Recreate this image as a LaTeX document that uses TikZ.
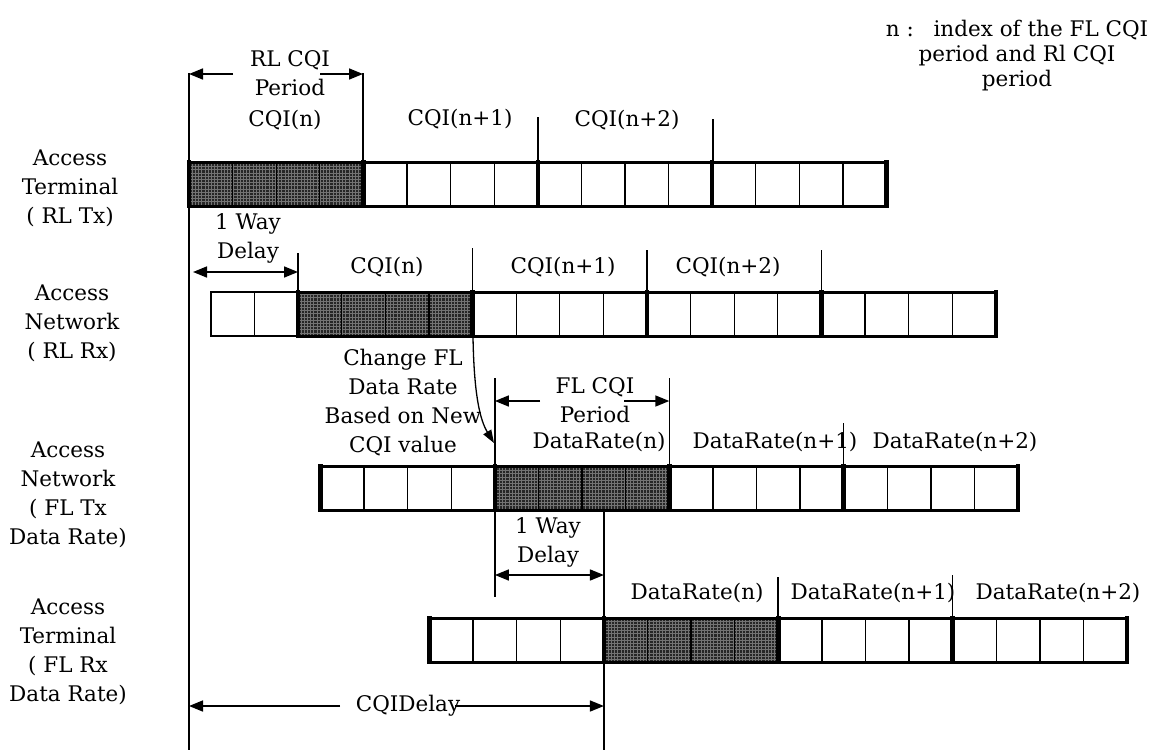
\documentclass[tikz,border=0pt]{standalone}
\usepackage{fontspec}
\setmainfont{DejaVu Serif}
\usetikzlibrary{arrows.meta}

% slot width of the time lines
\newcommand\sw{43.6}

\begin{document}
\begin{tikzpicture}[x=1pt,y=-1pt,
  lbl/.style={font=\fontsize{21.5}{29}\selectfont, inner sep=0pt, align=center},
  note/.style={font=\fontsize{21.5}{25}\selectfont, inner sep=0pt, align=center},
  slotline/.style={line width=1.3pt},
  rowedge/.style={line width=3pt, line cap=rect},
  thinedge/.style={line width=1.3pt},
  periodline/.style={line width=4.5pt, line cap=rect},
  tick/.style={line width=1.4pt},
  dim/.style={line width=1.6pt, -{Triangle[length=14pt,width=11pt]}},
  dimboth/.style={line width=1.6pt, {Triangle[length=14pt,width=11pt]}-{Triangle[length=14pt,width=11pt]}},
  cqifill/.style={fill=black!85},
  cqigrid/.style={draw=black!55, line width=0.55pt}
]
\useasboundingbox (0,0) rectangle (1164,750);

% a shaded CQI period of four slots, #1 = left x, #2 = top y
\newcommand\cqiblock[2]{%
  \fill[cqifill] (#1,#2) rectangle ++(4*\sw,44);
  \begin{scope}
    \clip (#1,#2) rectangle ++(4*\sw,44);
    \draw[cqigrid, step=3.2pt] (#1-2,#2-2) grid (#1+4*\sw+2,#2+46);
  \end{scope}}

% ---------- Access Terminal (RL Tx) ----------
\cqiblock{189}{162}
\foreach \k in {1,...,15} \draw[slotline] (189+\k*\sw,162) -- ++(0,44);
\draw[rowedge] (189,162) -- (189+16*\sw,162) (189,206) -- (189+16*\sw,206);
\foreach \k in {0,4,8,12,16} \draw[periodline] (189+\k*\sw,162) -- ++(0,44);

% ---------- Access Network (RL Rx) ----------
\cqiblock{211+2*\sw}{292}
\foreach \k in {1,...,17} \draw[slotline] (211+\k*\sw,292) -- ++(0,44);
\draw[thinedge] (211,292) rectangle (211+2*\sw,336);
\draw[rowedge] (211+2*\sw,292) -- (211+18*\sw,292) (211+2*\sw,336) -- (211+18*\sw,336);
\foreach \k in {2,6,10,14,18} \draw[periodline] (211+\k*\sw,292) -- ++(0,44);

% ---------- Access Network (FL Tx Data Rate) ----------
\cqiblock{320.5+4*\sw}{466}
\foreach \k in {1,...,15} \draw[slotline] (320.5+\k*\sw,466) -- ++(0,44);
\draw[rowedge] (320.5,466) -- (320.5+16*\sw,466) (320.5,510) -- (320.5+16*\sw,510);
\foreach \k in {0,4,8,12,16} \draw[periodline] (320.5+\k*\sw,466) -- ++(0,44);

% ---------- Access Terminal (FL Rx Data Rate) ----------
\cqiblock{429.5+4*\sw}{618}
\foreach \k in {1,...,15} \draw[slotline] (429.5+\k*\sw,618) -- ++(0,44);
\draw[rowedge] (429.5,618) -- (429.5+16*\sw,618) (429.5,662) -- (429.5+16*\sw,662);
\foreach \k in {0,4,8,12,16} \draw[periodline] (429.5+\k*\sw,618) -- ++(0,44);

% ---------- row labels ----------
\node[lbl] (at1) at (70,188) {Access\\Terminal\\( RL Tx)};
\node[lbl] (an1) at (72,323) {Access\\Network\\( RL Rx)};
\node[lbl] (an2) at (68,495) {Access\\Network\\( FL Tx\\Data Rate)};
\node[lbl] (at2) at (68,652) {Access\\Terminal\\( FL Rx\\Data Rate)};

% ---------- reference lines ----------
\coordinate (t0a) at (189,73);   \coordinate (t0b) at (189,750);
\coordinate (t1a) at (363,73);   \coordinate (t1b) at (363,162);
\coordinate (t2a) at (538,117);  \coordinate (t2b) at (538,162);
\coordinate (t3a) at (713,119);  \coordinate (t3b) at (713,162);
\coordinate (r1a) at (298,253);  \coordinate (r1b) at (298,292);
\coordinate (r2a) at (472.6,248);\coordinate (r2b) at (472.6,292);
\coordinate (r3a) at (647,250);  \coordinate (r3b) at (647,292);
\coordinate (r4a) at (821.4,250);\coordinate (r4b) at (821.4,292);
\coordinate (f1a) at (494.9,378);\coordinate (f1b) at (494.9,597);
\coordinate (f2a) at (669.3,378);\coordinate (f2b) at (669.3,466);
\coordinate (f3a) at (843.7,423);\coordinate (f3b) at (843.7,466);
\coordinate (d1a) at (603.9,510);\coordinate (d1b) at (603.9,750);
\coordinate (d2a) at (777.8,577);\coordinate (d2b) at (777.8,618);
\coordinate (d3a) at (952.2,575);\coordinate (d3b) at (952.2,618);
\draw[tick] (t0a) -- (t0b);
\foreach \p in {t1,t2,t3,r1,r2,r3,r4,f1,f2,f3,d1,d2,d3}
  \draw[tick] (\p a) -- (\p b);

% ---------- RL CQI period ----------
\node[lbl] (rlp) at (290,73) {RL CQI\\Period};
\coordinate (rlpL) at (233,74); \coordinate (rlpR) at (320,74);
\draw[dim] (rlpL) -- (t0a |- rlpL);
\draw[dim] (rlpR) -- (t1a |- rlpR);
\node[lbl] (c1) at (285,120) {CQI(n)};
\node[lbl] (c2) at (460,119) {CQI(n+1)};
\node[lbl] (c3) at (627,120) {CQI(n+2)};

% ---------- RL one way delay ----------
\node[lbl] (wd1) at (248,238) {1 Way\\Delay};
\coordinate (wd1L) at (193,272);
\draw[dimboth] (wd1L) -- (r1a |- wd1L);
\node[lbl] (c4) at (387,267) {CQI(n)};
\node[lbl] (c5) at (563,267) {CQI(n+1)};
\node[lbl] (c6) at (728,267) {CQI(n+2)};

% ---------- rate change ----------
\node[lbl] (chg) at (403,403) {Change FL\\Data Rate\\Based on New\\CQI value};
\coordinate (cvs) at (473,337); \coordinate (cve) at (494,443);
\draw[line width=1.3pt, -{Triangle[length=13pt,width=9pt]}]
  (cvs) .. controls (474,395) and (480,420) .. (cve);

% ---------- FL CQI period ----------
\node[lbl] (flp) at (595,400) {FL CQI\\Period};
\coordinate (flpL) at (540,401); \coordinate (flpR) at (624,401);
\draw[dim] (flpL) -- (f1a |- flpL);
\draw[dim] (flpR) -- (f2a |- flpR);
\node[lbl] (dr1) at (599,442) {DataRate(n)};
\node[lbl] (dr2) at (775,442) {DataRate(n+1)};
\node[lbl] (dr3) at (955,442) {DataRate(n+2)};

% ---------- FL one way delay ----------
\node[lbl] (wd2) at (548,542) {1 Way\\Delay};
\coordinate (wd2L) at (494.9,575);
\draw[dimboth] (wd2L) -- (d1a |- wd2L);
\node[lbl] (dr4) at (697,593) {DataRate(n)};
\node[lbl] (dr5) at (873,593) {DataRate(n+1)};
\node[lbl] (dr6) at (1058,593) {DataRate(n+2)};

% ---------- total CQI delay ----------
\node[lbl] (cqd) at (408,706) {CQIDelay};
\coordinate (cqdL) at (340,706); \coordinate (cqdR) at (455,706);
\draw[dim] (cqdL) -- (t0a |- cqdL);
\draw[dim] (cqdR) -- (d1a |- cqdR);

% ---------- index note ----------
\node[note] (idx) at (1017,56) {n :\hspace{0.5em} index of the FL CQI\\period and Rl CQI\\period};
\end{tikzpicture}
\end{document}
